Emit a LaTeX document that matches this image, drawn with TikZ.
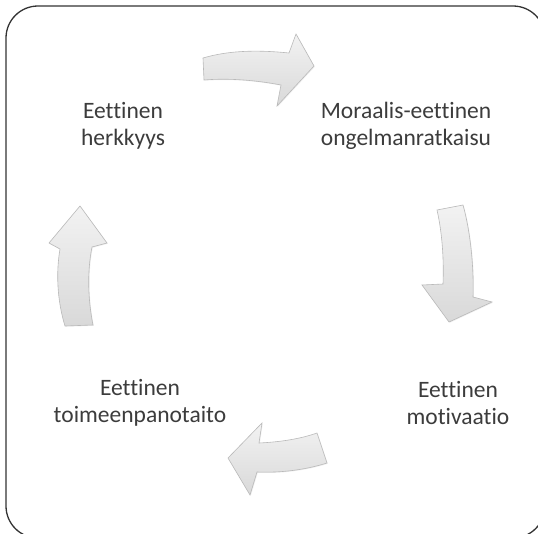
\documentclass[tikz,border=0pt]{standalone}
\usepackage{fontspec}
\setmainfont{Carlito}[RawFeature=-liga]
\usetikzlibrary{shadows}
\definecolor{labelgray}{HTML}{3C3C3C}
\definecolor{framegray}{HTML}{333333}
\tikzset{
  frame/.style={draw=framegray, line width=1.3pt, rounded corners=32pt},
  cyclearrow/.style={draw=gray!55, line width=0.6pt, top color=gray!10, bottom color=gray!30,
    drop shadow={opacity=0.12, shadow xshift=0.8pt, shadow yshift=-0.8pt}},
  stage/.style={text=labelgray, align=center, font=\fontsize{23.5}{27}\selectfont, inner sep=0pt}
}
\begin{document}
\begin{tikzpicture}[x=1pt,y=-1pt]
\useasboundingbox (0,0) rectangle (538,533);
\clip (0,0) rectangle (538,533);
\fill[white] (0,0) rectangle (538,533);
% outer frame (runs past the right and bottom edges)
\draw[frame] (6,6) rectangle (545,538);

% stage labels
\node[stage] (sens) at (123,126) {Eettinen\\herkkyys};
\node[stage] (solve) at (406,126) {Moraalis-eettinen\\ongelmanratkaisu};
\node[stage] (motiv) at (458,403) {Eettinen\\motivaatio};
\node[stage] (impl) at (140,403) {Eettinen\\toimeenpanotaito};

% curved block arrows, clockwise
\path[cyclearrow] (203,58) .. controls (230,50) and (260,50) .. (289,53)
  -- (296,34) -- (314,66) -- (277,106) -- (281,85)
  .. controls (255,80) and (228,78) .. (204,80) -- cycle;
\path[cyclearrow] (437,210) -- (463,205)
  .. controls (470,230) and (474,265) .. (473,297)
  -- (492,302) -- (449,322) -- (422,285) -- (443,284)
  .. controls (444,258) and (442,232) .. (437,210) -- cycle;
\path[cyclearrow] (317,433) -- (327,463)
  .. controls (305,470) and (280,473) .. (257,472)
  -- (250,495) -- (228,458) -- (262,423) -- (259,443)
  .. controls (280,442) and (300,439) .. (317,433) -- cycle;
\path[cyclearrow] (93,325) -- (65,326)
  .. controls (57,300) and (56,272) .. (60,249)
  -- (49,243) -- (80,206) -- (107,243) -- (92,247)
  .. controls (87,272) and (88,300) .. (93,325) -- cycle;
\end{tikzpicture}
\end{document}
